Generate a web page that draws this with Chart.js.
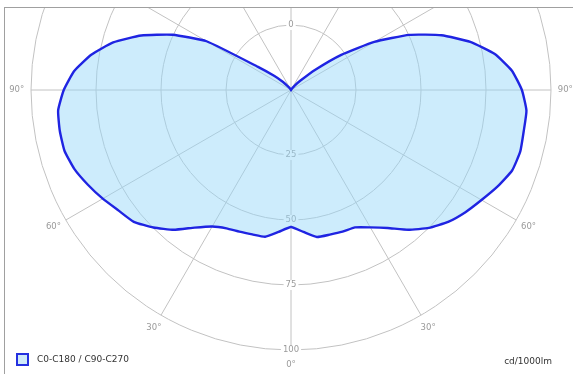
<!DOCTYPE html>
<html>
<head>
<meta charset="utf-8">
<script src="https://cdn.jsdelivr.net/npm/chart.js@4.4.1/dist/chart.umd.min.js"></script>
<style>
  html, body { margin: 0; padding: 0; background: #fff; }
  body { width: 573px; height: 374px; position: relative; overflow: hidden; font-family: "DejaVu Sans", sans-serif; }
  .frame {
    position: absolute; left: 4px; top: 7px; width: 569px; height: 367px;
    border-left: 1px solid #a0a0a0; border-top: 1px solid #a0a0a0;
    box-sizing: border-box; overflow: hidden;
  }
  #polar { position: absolute; left: -14px; top: -218px; }
  .legend { position: absolute; left: 16px; top: 353px; font-size: 9px; color: #333; }
  .legend .box {
    position: absolute; left: 0; top: 0; width: 9px; height: 9px;
    border: 2px solid #2430e0; background: #cfeaf9;
  }
  .legend span { position: absolute; left: 21px; top: 1px; white-space: nowrap; }
  .unit { position: absolute; right: 21px; top: 356px; font-size: 9px; color: #333; }
</style>
</head>
<body>
<div class="frame">
  <canvas id="polar" width="600" height="600"></canvas>
</div>
<div class="legend"><div class="box"></div><span>C0-C180 / C90-C270</span></div>
<div class="unit">cd/1000lm</div>

<script>
// gamma angles (deg from nadir) for one half plane
const gammaAngles = [0, 5, 10, 15, 20, 25, 30, 35, 40, 45, 50, 55, 60, 65, 70, 75, 80, 85, 90,
  95, 100, 105, 110, 115, 120, 125, 130, 135, 140, 145, 150, 155, 160, 165, 170, 175, 180];

// cd/1000lm, left half (C180)
const c180Values = [52.7, 54.8, 57.3, 57.5, 58.0, 58.7, 60.6, 64.6, 70.2, 74.8, 78.9, 80.9, 83.6,
  86.2, 88.7, 90.2, 90.3, 89.9, 87.4, 83.7, 78.0, 70.8, 61.3, 50.3, 37.5, 15.5, 8.5, 4.5, 2.0,
  0.8, 0, 0, 0, 0, 0, 0, 0];

// cd/1000lm, right half (C0)
const c0Values = [52.7, 54.8, 57.4, 57.6, 58.0, 58.3, 61.0, 64.8, 70.2, 75.0, 78.9, 81.9, 84.6,
  87.7, 90.5, 91.3, 90.9, 90.9, 88.8, 85.3, 79.6, 71.4, 61.6, 50.2, 37.0, 23.6, 12.0, 5.0, 2.2,
  0.8, 0, 0, 0, 0, 0, 0, 0];

const radialTicks = [25, 50, 75, 100];
const angleTickLabels = ['0°', '30°', '60°', '90°'];

// radar goes clockwise from the bottom: left half up, then right half down
const labels = [];
const values = [];
gammaAngles.slice(0, -1).forEach((g, i) => {
  labels.push(g);
  values.push(c180Values[i]);
});
for (let i = gammaAngles.length - 1; i > 0; i--) {
  labels.push(gammaAngles[i]);
  values.push(c0Values[i]);
}

const gridColor = '#c2c2c2';
const step = gammaAngles[1] - gammaAngles[0];

function backText(ctx, text, x, y) {
  const w = ctx.measureText(text).width;
  ctx.fillStyle = '#fff';
  ctx.fillRect(x - w / 2 - 2, y - 5, w + 4, 10);
  ctx.fillStyle = '#9a9a9a';
  ctx.fillText(text, x, y);
}

const polarLabels = {
  id: 'polarLabels',
  beforeDatasetsDraw(chart) {
    const r = chart.scales.r;
    const ctx = chart.ctx;
    ctx.save();
    ctx.font = '8.5px "DejaVu Sans"';
    ctx.textAlign = 'center';
    ctx.textBaseline = 'middle';
    radialTicks.forEach(v => {
      const p = r.getPointPositionForValue(0, v);
      backText(ctx, String(v), p.x, p.y);
    });
    const top = r.getPointPositionForValue(labels.indexOf(180), 25);
    backText(ctx, '0', top.x, top.y);
    angleTickLabels.forEach((txt, k) => {
      const idx = (k * 30) / step;
      const a = r.getPointPositionForValue(idx, 105.5);
      backText(ctx, txt, a.x, a.y);
      if (idx > 0) {
        const b = r.getPointPositionForValue(labels.length - idx, 105.5);
        backText(ctx, txt, b.x, b.y);
      }
    });
    ctx.restore();
  }
};

new Chart(document.getElementById('polar'), {
  type: 'radar',
  data: {
    labels: labels,
    datasets: [{
      label: 'C0-C180 / C90-C270',
      data: values,
      borderColor: '#1f24e2',
      borderWidth: 2.4,
      backgroundColor: 'rgba(150, 216, 248, 0.48)',
      fill: true,
      pointRadius: 0,
      tension: 0.15,
    }],
  },
  options: {
    responsive: false,
    animation: false,
    layout: { padding: 40 },
    plugins: {
      legend: { display: false },
      tooltip: { enabled: false },
    },
    scales: {
      r: {
        min: 0,
        max: 100,
        startAngle: 180,
        ticks: { display: false, stepSize: 25 },
        pointLabels: { display: false },
        grid: { circular: true, color: gridColor, lineWidth: 1 },
        angleLines: {
          color: ctx => (labels[ctx.index] % 30 === 0 ? gridColor : 'transparent'),
          lineWidth: 1,
        },
      },
    },
  },
  plugins: [polarLabels],
});
</script>
</body>
</html>
